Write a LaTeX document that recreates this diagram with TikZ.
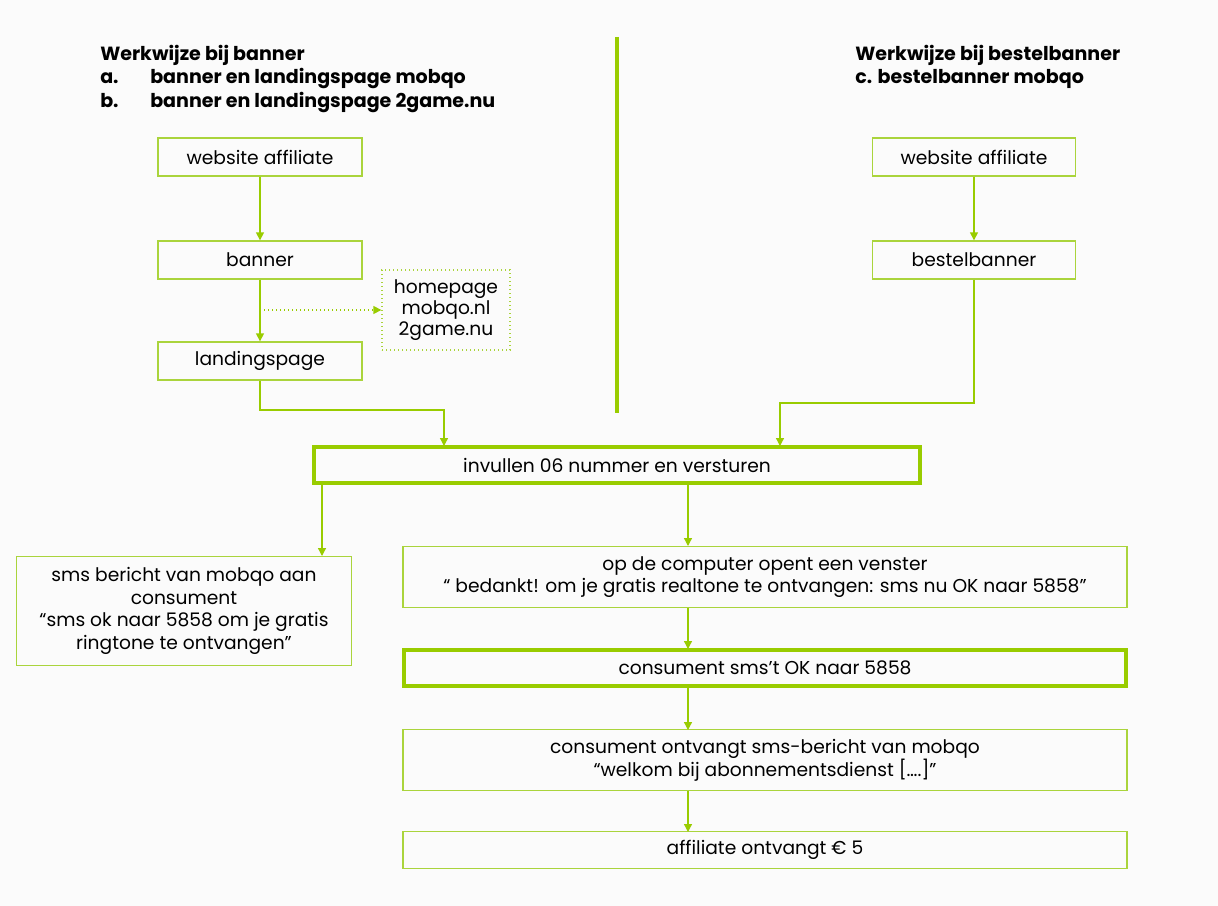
\documentclass[tikz,border=0pt]{standalone}
\usepackage{fontspec}
\setmainfont{Poppins}
\usetikzlibrary{arrows.meta}
\definecolor{lime}{HTML}{99CC00}
\definecolor{limelight}{HTML}{AAD43C}
\begin{document}
\begin{tikzpicture}
  [
    x=0.75pt,y=-0.75pt,
    inner sep=0mm,
    font=\fontsize{14}{17}\selectfont,
    stap/.style={rectangle,draw=limelight,line width=1pt,align=center},
    kern/.style={rectangle,draw=lime,line width=3pt,align=center},
    pijl/.style={draw=lime,line width=1pt,-{Triangle[length=6pt,width=6pt]}},
    kop/.style={anchor=base west,font=\fontsize{14.3}{16}\selectfont\bfseries},
  ]
  \useasboundingbox[fill=gray!3] (0,0) rectangle (1218,906);
  % kopjes
  \node[kop] (kop links)  at (100,61)  {Werkwijze bij banner};
  \node[kop] (kop a)      at (100,84)  {a.};
  \node[kop] (kop a txt)  at (150,84)  {banner en landingspage mobqo};
  \node[kop] (kop b)      at (100,108) {b.};
  \node[kop] (kop b txt)  at (150,108) {banner en landingspage 2game.nu};
  \node[kop] (kop rechts) at (855,61)  {Werkwijze bij bestelbanner};
  \node[kop] (kop c)      at (855,84)  {c. bestelbanner mobqo};
  \draw[lime,line width=3pt] (617,37) -- (617,413);
  % stappen
  \node[stap,minimum width=153pt,minimum height=28.5pt] (website links)  at (260,157) {website affiliate};
  \node[stap,minimum width=153pt,minimum height=28.5pt] (banner)         at (260,260) {banner};
  \node[stap,minimum width=153pt,minimum height=28.5pt] (landingspage)   at (260,361) {landingspage};
  \node[stap,dotted,minimum width=96pt,minimum height=60pt,font=\fontsize{14}{16}\selectfont] (homepage) at (446,310) {homepage\\mobqo.nl\\2game.nu};
  \node[stap,minimum width=152pt,minimum height=28.5pt] (website rechts) at (974,157) {website affiliate};
  \node[stap,minimum width=152pt,minimum height=28.5pt] (bestelbanner)   at (974,260) {bestelbanner};
  \node[kern,minimum width=455pt,minimum height=27pt]   (invullen)       at (617,465) {invullen 06 nummer en versturen};
  \node[stap,minimum width=251pt,minimum height=82pt]   (sms bericht)    at (184,611) {sms bericht van mobqo aan\\consument\\“sms ok naar 5858 om je gratis\\ringtone te ontvangen”};
  \node[stap,minimum width=543pt,minimum height=46pt]   (venster)        at (765,577) {op de computer opent een venster\\“ bedankt! om je gratis realtone te ontvangen: sms nu OK naar 5858”};
  \node[kern,minimum width=541pt,minimum height=27pt]   (consument sms)  at (765,668) {consument sms’t OK naar 5858};
  \node[stap,minimum width=543pt,minimum height=46pt]   (ontvangt sms)   at (765,760) {consument ontvangt sms-bericht van mobqo\\“welkom bij abonnementsdienst [….]”};
  \node[stap,minimum width=543pt,minimum height=28pt]   (affiliate)      at (765,850) {affiliate ontvangt € 5};
  % pijlen
  \draw[pijl] (website links) -- (banner);
  \draw[pijl] (banner) -- (landingspage);
  \draw[pijl,dotted] (260,310) -- (homepage.west);
  \draw[pijl] (landingspage.south) |- (444,410) -- (444,446);
  \draw[pijl] (website rechts) -- (bestelbanner);
  \draw[pijl] (bestelbanner.south) |- (780,403) -- (780,446);
  \draw[pijl] (322,484) -- (322,556);
  \draw[pijl] (688,484) -- (688,546);
  \draw[pijl] (688,608) -- (688,649);
  \draw[pijl] (688,688) -- (688,730);
  \draw[pijl] (688,791) -- (688,832);
\end{tikzpicture}
\end{document}
